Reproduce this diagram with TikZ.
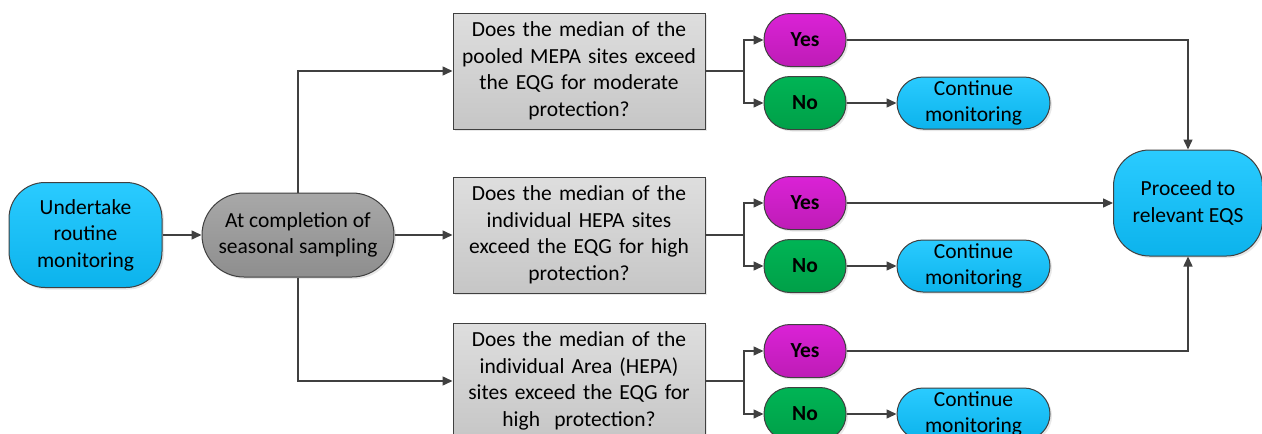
\documentclass[tikz,border=0pt]{standalone}
\usepackage{fontspec}
\setmainfont{Carlito}
\usetikzlibrary{arrows.meta,shadows}
\definecolor{edge}{HTML}{404040}
\definecolor{cyanT}{HTML}{2ACBFF}
\definecolor{cyanB}{HTML}{0CB3EC}
\definecolor{greyT}{HTML}{A8A8A8}
\definecolor{greyB}{HTML}{8E8E8E}
\definecolor{boxT}{HTML}{DEDEDE}
\definecolor{boxB}{HTML}{C6C6C6}
\definecolor{magT}{HTML}{DA22D6}
\definecolor{magB}{HTML}{BE1CB6}
\definecolor{grnT}{HTML}{00B455}
\definecolor{grnB}{HTML}{00A048}
\tikzset{
  base/.style={draw=edge, line width=1pt, align=center, inner sep=0pt,
    font=\fontsize{21.5}{26.5}\selectfont,
    drop shadow={opacity=0.18, shadow xshift=2pt, shadow yshift=-2pt}},
  startbox/.style={base, top color=cyanT, bottom color=cyanB,
    minimum width=153pt, minimum height=105pt, rounded corners=36pt},
  endbox/.style={base, top color=cyanT, bottom color=cyanB,
    minimum width=149pt, minimum height=106pt, rounded corners=36pt},
  stagebox/.style={base, top color=greyT, bottom color=greyB,
    minimum width=192pt, minimum height=84pt, rounded corners=42pt},
  question/.style={base, top color=boxT, bottom color=boxB,
    minimum width=252pt, minimum height=116pt, text width=246pt},
  yesbox/.style={base, top color=magT, bottom color=magB,
    minimum width=82pt, minimum height=53pt, rounded corners=26pt,
    font=\fontsize{21.5}{26.5}\selectfont\bfseries},
  nobox/.style={base, top color=grnT, bottom color=grnB,
    minimum width=82pt, minimum height=53pt, rounded corners=26pt,
    font=\fontsize{21.5}{26.5}\selectfont\bfseries},
  contbox/.style={base, top color=cyanT, bottom color=cyanB,
    minimum width=153pt, minimum height=52pt, rounded corners=26pt},
  link/.style={draw=edge, line width=1.5pt},
  arrow/.style={link, -{Triangle[length=10pt,width=9pt]}}
}
\begin{document}
\begin{tikzpicture}[x=1pt,y=-1pt]
\useasboundingbox[fill=white] (0,0) rectangle (1262,434);

% start and gate
\node[startbox] (u) at (85.5,235) {Undertake\\routine\\monitoring};
\node[stagebox] (c) at (298,235) {At completion of\\seasonal sampling};

% the three questions
\node[question] (q1) at (579,71) {Does the median of the\\pooled MEPA sites exceed\\the EQG for moderate\\protection?};
\node[question] (q2) at (579,235) {Does the median of the\\individual HEPA sites\\exceed the EQG for high\\protection?};
\node[question] (q3) at (579,381) {Does the median of the\\individual Area (HEPA)\\sites exceed the EQG for\\high\ \ protection?};

% answers
\node[yesbox] (y1) at (805,40) {Yes};
\node[nobox]  (n1) at (805,103) {No};
\node[yesbox] (y2) at (805,203) {Yes};
\node[nobox]  (n2) at (805,266) {No};
\node[yesbox] (y3) at (805,351) {Yes};
\node[nobox]  (n3) at (805,414) {No};

\node[contbox] (k1) at (973.5,103) {Continue\\monitoring};
\node[contbox] (k2) at (973.5,266) {Continue\\monitoring};
\node[contbox] (k3) at (973.5,414) {Continue\\monitoring};

\node[endbox] (p) at (1188,203) {Proceed to\\relevant EQS};

% branch points
\coordinate (j1) at (744,71);
\coordinate (j2) at (744,235);
\coordinate (j3) at (744,381);

% connectors
\draw[arrow] (u) -- (c);
\draw[arrow] (c.north) |- (q1.west);
\draw[arrow] (c) -- (q2);
\draw[arrow] (c.south) |- (q3.west);

\draw[link] (q1.east) -- (j1);
\draw[arrow] (j1) |- (y1.west);
\draw[arrow] (j1) |- (n1.west);
\draw[link] (q2.east) -- (j2);
\draw[arrow] (j2) |- (y2.west);
\draw[arrow] (j2) |- (n2.west);
\draw[link] (q3.east) -- (j3);
\draw[arrow] (j3) |- (y3.west);
\draw[arrow] (j3) |- (n3.west);

\draw[arrow] (n1) -- (k1);
\draw[arrow] (n2) -- (k2);
\draw[arrow] (n3) -- (k3);

\draw[arrow] (y1.east) -| (p.north);
\draw[arrow] (y2) -- (p);
\draw[arrow] (y3.east) -| (p.south);
\end{tikzpicture}
\end{document}
